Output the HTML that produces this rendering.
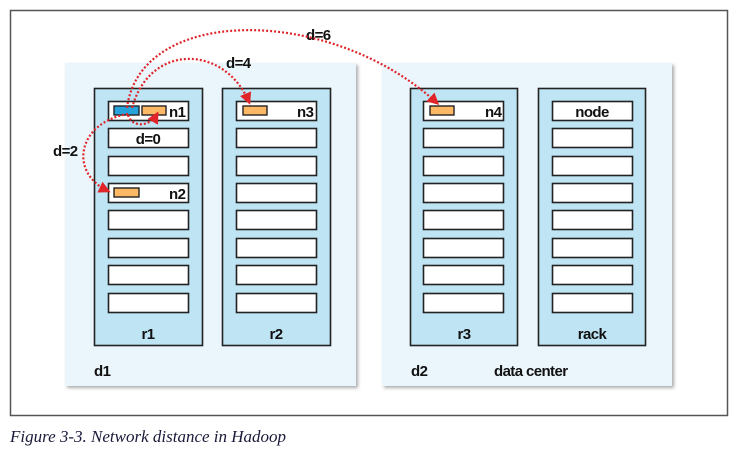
<!DOCTYPE html>
<html><head><style>
html,body{margin:0;padding:0;background:#fff;width:739px;height:451px;overflow:hidden}
svg text{font-family:"Liberation Sans Narrow","Liberation Sans",sans-serif;font-weight:bold;font-size:15px;letter-spacing:-0.6px;fill:#111}
</style></head><body>
<svg width="739" height="451" viewBox="0 0 739 451" xmlns="http://www.w3.org/2000/svg">
<defs>
<filter id="sh" x="-5%" y="-5%" width="115%" height="115%"><feDropShadow dx="2" dy="2" stdDeviation="1.5" flood-color="#888" flood-opacity="0.7"/></filter>
<marker id="ar" markerWidth="12" markerHeight="12" refX="9" refY="6" orient="auto" markerUnits="userSpaceOnUse"><path d="M0,0 L12,6 L0,12 Z" fill="#e0252a"/></marker>
</defs>
<rect x="10.5" y="10.5" width="717" height="405" fill="#fff" stroke="#555" stroke-width="1.5"/>
<rect x="65" y="63" width="291" height="323" fill="#eaf6fc" filter="url(#sh)"/>
<rect x="382" y="63" width="290" height="323" fill="#eaf6fc" filter="url(#sh)"/>
<g stroke="#222" stroke-width="1.6" fill="#bfe5f5">
<rect x="94.5" y="88.5" width="108" height="257"/>
<rect x="222.5" y="88.5" width="108" height="257"/>
<rect x="410.5" y="88.5" width="107" height="257"/>
<rect x="538.5" y="88.5" width="107" height="257"/>
</g>
<g stroke="#222" stroke-width="1.6" fill="#fff">
<rect x="108.5" y="101.5" width="80" height="19"/><rect x="108.5" y="128.5" width="80" height="19"/><rect x="108.5" y="156.5" width="80" height="19"/><rect x="108.5" y="183.5" width="80" height="19"/><rect x="108.5" y="210.5" width="80" height="19"/><rect x="108.5" y="238.5" width="80" height="19"/><rect x="108.5" y="265.5" width="80" height="19"/><rect x="108.5" y="293.5" width="80" height="19"/>
<rect x="236.5" y="101.5" width="80" height="19"/><rect x="236.5" y="128.5" width="80" height="19"/><rect x="236.5" y="156.5" width="80" height="19"/><rect x="236.5" y="183.5" width="80" height="19"/><rect x="236.5" y="210.5" width="80" height="19"/><rect x="236.5" y="238.5" width="80" height="19"/><rect x="236.5" y="265.5" width="80" height="19"/><rect x="236.5" y="293.5" width="80" height="19"/>
<rect x="423.5" y="101.5" width="80" height="19"/><rect x="423.5" y="128.5" width="80" height="19"/><rect x="423.5" y="156.5" width="80" height="19"/><rect x="423.5" y="183.5" width="80" height="19"/><rect x="423.5" y="210.5" width="80" height="19"/><rect x="423.5" y="238.5" width="80" height="19"/><rect x="423.5" y="265.5" width="80" height="19"/><rect x="423.5" y="293.5" width="80" height="19"/>
<rect x="552.5" y="101.5" width="80" height="19"/><rect x="552.5" y="128.5" width="80" height="19"/><rect x="552.5" y="156.5" width="80" height="19"/><rect x="552.5" y="183.5" width="80" height="19"/><rect x="552.5" y="210.5" width="80" height="19"/><rect x="552.5" y="238.5" width="80" height="19"/><rect x="552.5" y="265.5" width="80" height="19"/><rect x="552.5" y="293.5" width="80" height="19"/>
</g>
<g stroke="#222" stroke-width="1.4">
<rect x="114" y="106" width="25" height="9" fill="#27a3dc"/>
<rect x="142" y="106" width="24" height="9" fill="#fdb865"/>
<rect x="114" y="188" width="25" height="9" fill="#fdb865"/>
<rect x="243" y="106" width="24" height="9" fill="#fdb865"/>
<rect x="430" y="106" width="24" height="9" fill="#fdb865"/>
</g>
<text x="169" y="117">n1</text>
<text x="169" y="199">n2</text>
<text x="297" y="117">n3</text>
<text x="485" y="117">n4</text>
<text x="592" y="117" text-anchor="middle">node</text>
<text x="148" y="144" text-anchor="middle">d=0</text>
<text x="148" y="339" text-anchor="middle">r1</text>
<text x="276" y="339" text-anchor="middle">r2</text>
<text x="464" y="339" text-anchor="middle">r3</text>
<text x="592" y="339" text-anchor="middle">rack</text>
<text x="94" y="376">d1</text>
<text x="411" y="376">d2</text>
<text x="494" y="376">data center</text>
<text x="306" y="40">d=6</text>
<text x="226" y="68">d=4</text>
<text x="53" y="156">d=2</text>
<g fill="none" stroke="#e0252a" stroke-width="2.2" stroke-dasharray="2,2">
<path d="M127,108 C140,5 330,5 437,103" marker-end="url(#ar)"/>
<path d="M132,108 C150,42 225,45 249,102" marker-end="url(#ar)"/>
<path d="M128,114 C78,122 68,172 108,191" marker-end="url(#ar)"/>
<path d="M128,115 C132,128 150,127 157,114" marker-end="url(#ar)"/>
</g>
<text x="10" y="442" style="font-family:'Liberation Serif',serif;font-style:italic;font-weight:normal;font-size:17px;letter-spacing:0;fill:#1a1a3a">Figure 3-3. Network distance in Hadoop</text>
</svg>
</body></html>
